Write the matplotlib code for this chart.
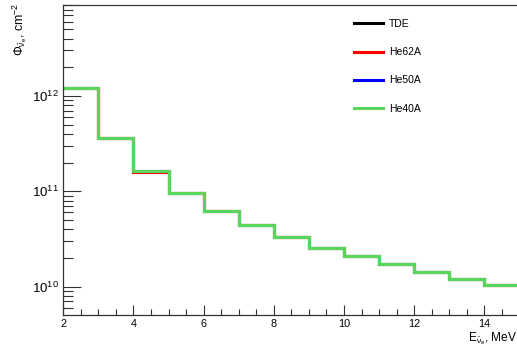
import matplotlib
matplotlib.use("Agg")
import matplotlib.pyplot as plt
from matplotlib.ticker import LogLocator, FixedLocator, MultipleLocator, NullFormatter

plt.rcParams['font.family'] = ['Liberation Sans', 'DejaVu Sans']
plt.rcParams['mathtext.fontset'] = 'custom'
plt.rcParams['mathtext.rm'] = 'Liberation Sans'
plt.rcParams['mathtext.it'] = 'Liberation Sans'
plt.rcParams['mathtext.bf'] = 'Liberation Sans:bold'
plt.rcParams['mathtext.sf'] = 'Liberation Sans'

# Data
bin_edges = [2, 3, 4, 5, 6, 7, 8, 9, 10, 11, 12, 13, 14, 15]
tde   = [1.20e12, 3.60e11, 1.64e11, 9.7e10, 6.25e10, 4.47e10, 3.31e10, 2.57e10, 2.08e10, 1.71e10, 1.41e10, 1.21e10, 1.04e10]
he62a = [1.20e12, 3.60e11, 1.59e11, 9.7e10, 6.25e10, 4.47e10, 3.31e10, 2.57e10, 2.08e10, 1.71e10, 1.41e10, 1.21e10, 1.04e10]
he50a = [1.20e12, 3.60e11, 1.64e11, 9.7e10, 6.25e10, 4.47e10, 3.31e10, 2.57e10, 2.08e10, 1.71e10, 1.41e10, 1.21e10, 1.04e10]
he40a = [1.20e12, 3.60e11, 1.64e11, 9.7e10, 6.25e10, 4.47e10, 3.31e10, 2.57e10, 2.08e10, 1.71e10, 1.41e10, 1.21e10, 1.04e10]
series_names = ["TDE", "He62A", "He50A", "He40A"]
series_colors = ["#000000", "#ff0000", "#0000ff", "#59d659"]
x_ticks = [2, 4, 6, 8, 10, 12, 14]

W, H = 517, 350
fig = plt.figure(figsize=(W / 100, H / 100), dpi=100)
left, right, bottom, top = 63.3, 519.4, 315, 5
ax = fig.add_axes([left / W, 1 - bottom / H, (right - left) / W, (bottom - top) / H])

lw = 2.2
for vals, name, col in zip([tde, he62a, he50a, he40a], series_names, series_colors):
    ax.stairs(vals, bin_edges, baseline=None, color=col, linewidth=lw, label=name)

ax.set_yscale('log')
ax.set_xlim(2, 15)
ax.set_ylim(5.04e9, 9.0e12)

ax.spines['right'].set_visible(False)
for s in ['left', 'bottom', 'top']:
    ax.spines[s].set_linewidth(0.9)
    ax.spines[s].set_color('#333333')

ax.xaxis.set_major_locator(FixedLocator(x_ticks))
ax.xaxis.set_minor_locator(MultipleLocator(0.5))
ax.yaxis.set_major_locator(LogLocator(base=10, numticks=10))
ax.yaxis.set_minor_locator(LogLocator(base=10, subs=range(2, 10), numticks=20))
ax.yaxis.set_minor_formatter(NullFormatter())

ax.tick_params(axis='both', which='both', direction='in', top=False, right=False,
               colors='#333333', labelcolor='black')
ax.tick_params(axis='x', which='major', length=7, width=0.8, pad=3, labelsize=7.8)
ax.tick_params(axis='x', which='minor', length=4, width=0.8)
ax.tick_params(axis='y', which='major', length=13, width=0.8, pad=3, labelsize=9.5)
ax.tick_params(axis='y', which='minor', length=7, width=0.8)

fig.text(20 / W, 1 - 3 / H, r'$\Phi_{\bar{\nu}_e}$, cm$^{-2}$', rotation=90,
         ha='center', va='top', fontsize=8.8)
fig.text(1.0, 1 - 330 / H, r'E$_{\bar{\nu}_e}$, MeV', ha='right', va='top', fontsize=8.6)

leg = ax.legend(loc='upper left', bbox_to_anchor=(354 / W, 1 - 19 / H),
                bbox_transform=fig.transFigure, frameon=False, fontsize=7.5,
                handlelength=2.75, handletextpad=0.6, labelspacing=1.75,
                borderpad=0, borderaxespad=0)
for line in leg.get_lines():
    line.set_linewidth(2.2)

fig.savefig('out.png', dpi=100)
